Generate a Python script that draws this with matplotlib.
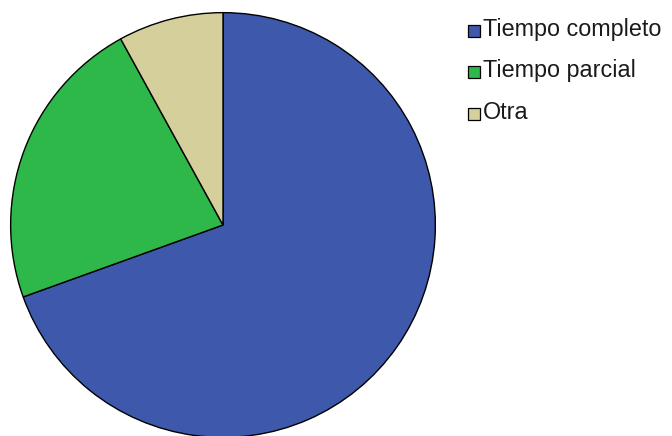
import matplotlib.pyplot as plt
from matplotlib.patches import Rectangle

categorias = ["Tiempo completo", "Tiempo parcial", "Otra"]
porcentajes = [69.5, 22.5, 8.0]
colores = ["#3e58ac", "#2eb84a", "#d5cf9b"]

fig = plt.figure(figsize=(6.72, 4.36), dpi=100)

# pie centrado en (223, 225) px, radio ~213 px
ax = fig.add_axes([10 / 672, -2 / 436, 426 / 672, 426 / 436])
ax.pie(porcentajes, colors=colores, startangle=90, counterclock=False,
       wedgeprops=dict(edgecolor="black", linewidth=1.0))
ax.set_xlim(-1.003, 1.003)
ax.set_ylim(-1.003, 1.003)
ax.set_aspect("equal")
ax.axis("off")

# leyenda a mano (linea base de cada fila en px)
y_base = [36, 77, 119]
for nombre, col, y in zip(categorias, colores, y_base):
    fig.patches.append(Rectangle((468 / 672, 1 - (y + 1) / 436), 12 / 672, 12 / 436,
                                 transform=fig.transFigure, facecolor=col,
                                 edgecolor="black", linewidth=0.9))
    fig.text(483 / 672, 1 - y / 436, nombre, fontsize=16.8, va="baseline",
             ha="left", family="Liberation Sans", color="#1a1a1a")

fig.savefig("out.png", dpi=100)
